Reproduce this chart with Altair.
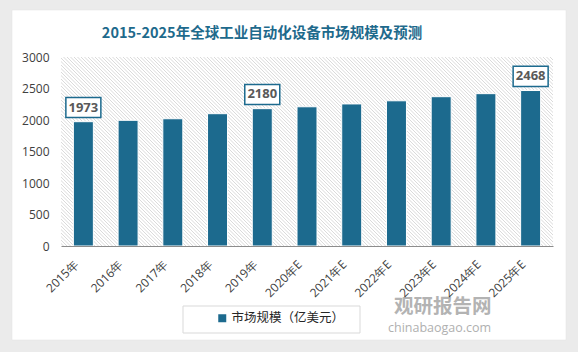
import altair as alt
import pandas as pd

years = ["2015年", "2016年", "2017年", "2018年", "2019年", "2020年E", "2021年E",
         "2022年E", "2023年E", "2024年E", "2025年E"]
values = [1973, 1995, 2020, 2100, 2180, 2210, 2255, 2305, 2370, 2418, 2468]
labeled_years = ["2015年", "2019年", "2025年E"]
series_name = "市场规模（亿美元）"
title_text = "2015-2025年全球工业自动化设备市场规模及预测"
y_ticks = [0, 500, 1000, 1500, 2000, 2500, 3000]

BAR = "#1c6a8e"
W, H = 492, 189
FONT = "Noto Sans CJK SC"
NUMFONT = "Open Sans"

df = pd.DataFrame({"year": years, "value": values, "series": series_name})
df["label"] = [str(v) if y in labeled_years else "" for y, v in zip(years, values)]

base = alt.Chart(df)
xscale = alt.Scale(paddingInner=0.56, paddingOuter=0.28)
xaxis = alt.Axis(labelAngle=-45, labelAlign="right", labelBaseline="middle",
                 labelFontSize=12, labelFont=NUMFONT, labelColor="#404040",
                 labelPadding=16, ticks=False, domainColor="#8c8c8c",
                 domainWidth=1.2, labelOffset=-7, labelOverlap=False, zindex=2)
yscale = alt.Scale(domain=[0, 3000], nice=False)
yaxis = alt.Axis(values=y_ticks, format="d", grid=False, domain=False,
                 ticks=False, labelOverlap=False, tickCount=7,
                 labelFontSize=12, labelFont=NUMFONT, labelColor="#404040",
                 labelPadding=12, zindex=2)


def X():
    return alt.X("year:N", sort=years, title=None, scale=xscale, axis=xaxis)


def Y(field):
    return alt.Y(field, title=None, scale=yscale, axis=yaxis)


one = alt.Data(values=[{}])

card = alt.Chart(one).mark_rect(fill="white", stroke="#e0e0e0", strokeWidth=0.5).encode(
    x=alt.value(-49), x2=alt.value(505), y=alt.value(-47), y2=alt.value(283))

hatch = alt.Chart(alt.sequence(-190, 496, 3.5, as_="s")).transform_calculate(
    xa="datum.s", xb="datum.s + 189", ya="0", yb="189"
).mark_rule(stroke="#dadada", strokeWidth=1, clip=True).encode(
    x=alt.X("xa:Q", scale=None), x2="xb:Q",
    y=alt.Y("ya:Q", scale=None), y2="yb:Q")

bars = base.mark_bar(size=20, stroke="white", strokeWidth=1).encode(
    x=X(), y=Y("value:Q"),
    color=alt.Color("series:N", scale=alt.Scale(range=[BAR]),
                    legend=alt.Legend(orient="none", legendX=155, legendY=255,
                                      title=None, symbolType="square", symbolSize=64,
                                      symbolStrokeWidth=0, labelFontSize=12.5,
                                      labelOffset=3,
                                      labelFont=FONT, labelColor="#262626",
                                      padding=0, direction="horizontal", zindex=2)))

lab = base.transform_filter("datum.label != ''").transform_calculate(
    lo="datum.value + 65", hi="datum.value + 385", mid="datum.value + 225")

boxes = lab.mark_bar(size=35, fill="white", stroke=BAR, strokeWidth=1.5).encode(
    x=X(), y=Y("lo:Q"), y2="hi:Q")

texts = lab.mark_text(fontSize=13, fontWeight="bold", font=NUMFONT, color="#595959",
                      baseline="middle").encode(
    x=X(), y=Y("mid:Q"), text="label:N")

data_layers = alt.layer(bars, boxes, texts)

title = alt.Chart(one).mark_text(text=title_text, fontSize=14.5, fontWeight="bold",
                                 font=FONT, color="#1e6a8c", align="center",
                                 baseline="middle").encode(
    x=alt.value(201), y=alt.value(-23))

legend_box = alt.Chart(one).mark_rect(fill="white", stroke="#d9d9d9", strokeWidth=1).encode(
    x=alt.value(122), x2=alt.value(299), y=alt.value(249), y2=alt.value(276))

wm1 = alt.Chart(one).mark_text(text="观研报告网", fontSize=19.5, fontWeight="bold",
                               font=FONT, color="#b3b3b3", align="left",
                               baseline="middle").encode(
    x=alt.value(333), y=alt.value(250))
wm2 = alt.Chart(one).mark_text(text="chinabaogao.com", fontSize=12.5, font=NUMFONT,
                               color="#b0b0b0", align="left", baseline="middle").encode(
    x=alt.value(327), y=alt.value(271))

chart = alt.layer(card, hatch, legend_box, data_layers, title, wm1, wm2).resolve_scale(
    x="independent", y="independent"
).resolve_axis(x="independent", y="independent").properties(
    width=W, height=H,
    autosize=alt.AutoSizeParams(type="none"),
    padding={"left": 61, "top": 57, "right": 25, "bottom": 106},
    background="#ebebeb",
).configure_view(stroke=None, fill=None)

chart.save("out.html", embed_options={"renderer": "svg", "actions": False})
